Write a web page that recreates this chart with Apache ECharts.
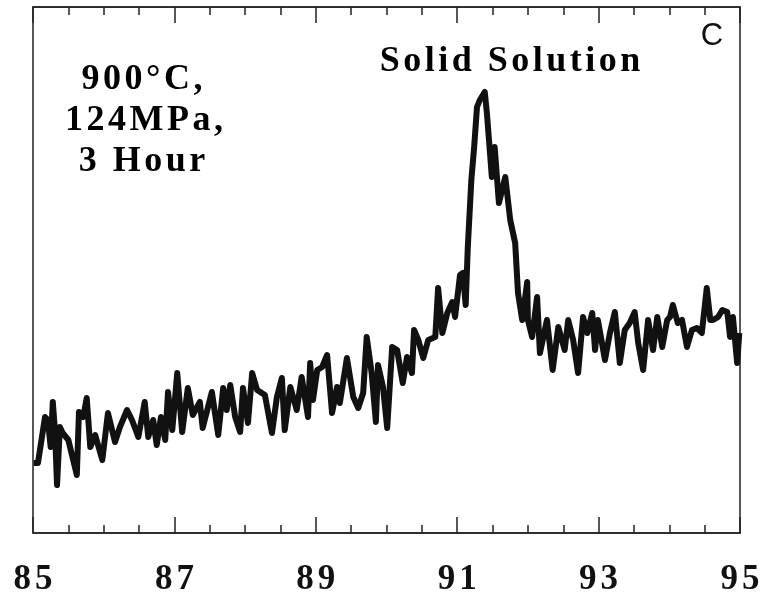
<!DOCTYPE html>
<html>
<head>
<meta charset="utf-8">
<script src="https://cdn.jsdelivr.net/npm/echarts@6/dist/echarts.min.js"></script>
<style>
  html, body { margin: 0; padding: 0; background: #fff; }
  #chart { width: 766px; height: 597px; }
</style>
</head>
<body>
<div id="chart"></div>
<script>
// 2-theta (degrees)
var twoTheta = [
  85.01, 85.07, 85.17, 85.21, 85.25, 85.28, 85.31, 85.34, 85.38, 85.42,
  85.50, 85.62, 85.65, 85.71, 85.76, 85.81, 85.88, 85.98, 86.06, 86.16,
  86.23, 86.33, 86.40, 86.49, 86.58, 86.63, 86.70, 86.75, 86.81, 86.87,
  86.91, 86.97, 87.04, 87.11, 87.19, 87.26, 87.36, 87.40, 87.53, 87.62,
  87.69, 87.74, 87.79, 87.86, 87.93, 87.97, 88.04, 88.10, 88.17, 88.28,
  88.38, 88.45, 88.52, 88.56, 88.64, 88.73, 88.80, 88.89, 88.92, 88.96,
  89.02, 89.09, 89.16, 89.23, 89.30, 89.34, 89.44, 89.53, 89.60, 89.67,
  89.72, 89.79, 89.85, 89.88, 89.95, 90.01, 90.08, 90.15, 90.23, 90.29,
  90.36, 90.39, 90.45, 90.52, 90.59, 90.69, 90.73, 90.79, 90.86, 90.93,
  90.97, 91.04, 91.08, 91.12, 91.15, 91.20, 91.24, 91.28, 91.32, 91.39,
  91.42, 91.49, 91.53, 91.59, 91.68, 91.75, 91.82, 91.86, 91.92, 91.99,
  92.00, 92.06, 92.13, 92.17, 92.27, 92.35, 92.43, 92.52, 92.57, 92.64,
  92.71, 92.78, 92.84, 92.91, 92.95, 92.99, 93.09, 93.16, 93.23, 93.30,
  93.37, 93.44, 93.51, 93.56, 93.63, 93.70, 93.77, 93.83, 93.90, 93.97,
  94.01, 94.05, 94.12, 94.18, 94.25, 94.32, 94.39, 94.46, 94.53, 94.58,
  94.62, 94.69, 94.75, 94.82, 94.86, 94.90, 94.96, 94.99
];
// intensity (arbitrary units)
var intensity = [
  70, 70, 116, 113, 86, 131, 103, 48, 106, 100,
  93, 58, 121, 116, 135, 86, 98, 73, 120, 91,
  106, 123, 113, 96, 131, 96, 113, 88, 116, 93,
  141, 103, 160, 101, 145, 118, 131, 105, 141, 98,
  145, 123, 148, 116, 101, 145, 110, 160, 143, 138,
  100, 136, 155, 103, 146, 123, 156, 116, 170, 133,
  163, 166, 178, 120, 146, 130, 175, 136, 125, 140,
  196, 160, 111, 168, 146, 105, 186, 183, 150, 176,
  160, 203, 193, 175, 193, 196, 245, 200, 220, 231,
  216, 258, 260, 228, 286, 353, 386, 426, 433, 441,
  420, 356, 386, 330, 356, 313, 290, 240, 213, 251,
  213, 196, 236, 180, 213, 163, 206, 183, 213, 193,
  160, 216, 200, 220, 183, 213, 173, 200, 221, 170,
  203, 210, 221, 190, 163, 213, 183, 216, 186, 213,
  216, 228, 210, 213, 186, 203, 205, 200, 245, 213,
  213, 216, 223, 221, 196, 216, 170, 200
];
var sampleLines = ['900°C,', '124MPa,', '3 Hour'];
var phaseLabel = 'Solid Solution';
var panelLabel = 'C';

var data = twoTheta.map(function (x, i) { return [x, intensity[i]]; });

// wide letter spacing of the original, done with one rich fragment per char
function spaced(str) {
  return str.split('').map(function (c) { return '{c|' + c + '}'; }).join('');
}
var serif = { fontFamily: 'Liberation Serif', fontWeight: 'bold', fontSize: 36, color: '#111', padding: [0, 1.75] };

var axisBase = {
  type: 'value', min: 85, max: 95, interval: 2,
  axisLine: { show: true, onZero: false, lineStyle: { color: '#222', width: 1.5 } },
  axisTick: { show: true, inside: true, length: 16, lineStyle: { color: '#222', width: 1.5 } },
  minorTick: { show: true, splitNumber: 4, length: 8, lineStyle: { color: '#222', width: 1.5 } },
  splitLine: { show: false }
};

var chart = echarts.init(document.getElementById('chart'));
chart.setOption({
  animation: false,
  backgroundColor: '#fff',
  grid: { left: 33, right: 26, top: 7, bottom: 64, show: true, borderColor: '#222', borderWidth: 1.5 },
  xAxis: [
    Object.assign({}, axisBase, {
      position: 'bottom',
      axisLabel: {
        show: true, margin: 29,
        formatter: function (v) { return spaced(String(v)); },
        rich: { c: Object.assign({}, serif, { fontSize: 35, padding: [0, 2] }) }
      }
    }),
    Object.assign({}, axisBase, { position: 'top', axisLabel: { show: false } })
  ],
  yAxis: {
    type: 'value', min: 0, max: 526,
    axisLine: { show: false }, axisTick: { show: false },
    axisLabel: { show: false }, splitLine: { show: false }
  },
  graphic: [
    { type: 'text', x: 142, y: 80, style: { text: spaced(sampleLines[0]), rich: { c: serif }, align: 'center', verticalAlign: 'middle' } },
    { type: 'text', x: 144, y: 121, style: { text: spaced(sampleLines[1]), rich: { c: serif }, align: 'center', verticalAlign: 'middle' } },
    { type: 'text', x: 142, y: 162, style: { text: spaced(sampleLines[2]), rich: { c: serif }, align: 'center', verticalAlign: 'middle' } },
    { type: 'text', x: 510, y: 62, style: { text: spaced(phaseLabel), rich: { c: serif }, align: 'center', verticalAlign: 'middle' } },
    { type: 'text', x: 712, y: 36, style: { text: panelLabel, fontFamily: 'Liberation Sans', fontSize: 31, fill: '#111', align: 'center', verticalAlign: 'middle' } }
  ],
  series: [{
    type: 'line',
    xAxisIndex: 0,
    data: data,
    showSymbol: false,
    lineStyle: { color: '#111', width: 6, join: 'round' }
  }]
});
</script>
</body>
</html>
